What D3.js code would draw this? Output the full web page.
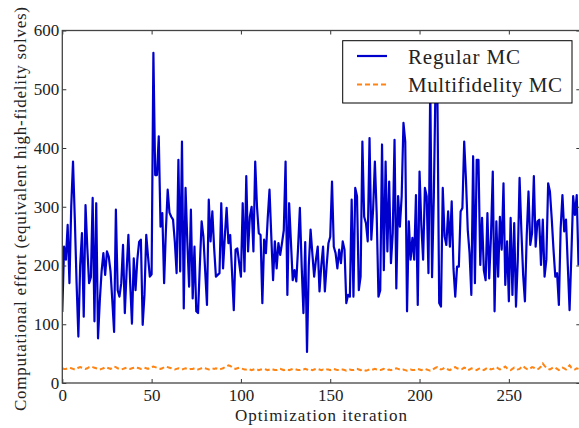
<!DOCTYPE html>
<html>
<head>
<meta charset="utf-8">
<style>
body { margin: 0; background: #fff; }
text { font-family: "Liberation Serif", "DejaVu Serif", "Times New Roman", serif; fill: #222; }
</style>
</head>
<body>
<svg width="579" height="428"></svg>
<script src="https://cdnjs.cloudflare.com/ajax/libs/d3/7.8.5/d3.min.js"></script>
<script>

// Regular MC effort per iteration (iteration 0..289)
var regularMC = [
  121,232,210,269,170,300,377,280,170,79, 200,255,113,303,230,170,180,315,105,306,
  76,140,190,221,184,224,215,190,140,87, 295,158,147,170,235,119,190,252,170,101,
  212,158,210,240,244,99,150,252,215,181, 185,562,354,354,420,266,289,170,260,329,
  290,283,278,240,187,380,190,411,127,332, 240,164,295,144,232,122,119,200,275,249,
  190,133,312,241,292,230,181,184,187,306, 195,250,298,238,252,190,124,227,229,205,
  181,306,190,352,224,283,300,224,377,300, 255,252,136,244,221,280,329,250,175,241,
  195,238,218,238,260,377,150,306,240,175, 192,173,230,298,200,119,240,53,200,261,
  220,181,210,232,156,200,232,156,200,238, 249,343,232,221,195,227,204,241,227,136,
  150,147,312,147,332,318,158,181,411,283, 272,241,417,244,295,377,289,147,158,406,
  192,377,224,343,204,255,414,161,318,266, 318,443,411,122,275,210,247,210,320,133,
  360,269,210,332,318,187,510,180,318,520, 490,136,130,332,250,235,292,232,309,195,
  147,198,198,292,298,411,346,260,221,150, 386,170,380,380,201,281,192,175,289,178,
  250,360,122,275,181,283,227,340,167,241, 139,281,150,272,130,210,349,260,184,139,
  250,326,235,255,352,232,275,278,201,278, 181,210,340,326,280,227,181,187,133,263,
  320,258,278,200,124,218,318,286,320,200
];

// Multifidelity MC effort per iteration
var multiMC = [
  25,24,24,25,26,25,24,23,24,26, 27,26,25,24,25,27,28,27,26,25, 24,23,24,25,27,26,25,24,26,28, 27,25,24,23,24,25,26,25,24,25, 26,27,26,25,24,25,26,25,24,26,
  27,28,27,26,25,24,25,27,28,27, 26,25,24,23,24,25,24,23,24,25, 24,23,24,24,25,24,23,24,25,26, 25,24,23,24,25,24,25,24,23,24, 25,27,28,30,29,27,25,24,25,26,
  25,24,23,23,24,23,22,23,24,23, 22,23,23,24,23,22,23,24,23,22, 22,23,24,23,22,23,23,22,23,24, 24,23,22,22,23,23,24,23,22,23, 22,23,24,24,23,22,23,22,23,23,
  22,23,24,23,22,22,23,23,22,21, 22,23,22,22,23,24,23,22,23,22, 21,22,23,22,23,24,23,22,22,23, 24,23,22,23,22,23,24,25,24,23, 22,23,22,21,22,23,22,22,23,24,
  23,22,23,24,23,22,21,22,24,26, 27,25,23,24,26,25,23,22,24,26, 27,25,24,23,24,26,25,22,23,25, 24,23,22,24,25,23,22,24,26,25, 23,24,25,27,25,23,24,26,28,25,
  23,22,24,26,25,23,24,27,29,26, 24,23,25,27,26,24,23,25,28,33, 29,26,24,23,25,27,26,24,22,24, 26,25,23,27,30,26,24,23,25,24
];

var xTicks = [0, 50, 100, 150, 200, 250];
var yTicks = [0, 100, 200, 300, 400, 500, 600];
var seriesNames = ["Regular MC", "Multifidelity MC"];

var serif = "'Liberation Serif', 'DejaVu Serif', serif";

var svg = d3.select("svg");

var x = d3.scaleLinear().domain([0, 290]).range([62.3, 580.3]);
var y = d3.scaleLinear().domain([0, 600]).range([383, 30.5]);

svg.append("clipPath").attr("id", "plotclip")
  .append("rect")
    .attr("x", x(0)).attr("y", y(600))
    .attr("width", x(290) - x(0)).attr("height", y(0) - y(600));

var line = d3.line()
    .x(function(d, i) { return x(i); })
    .y(function(d) { return y(d); });

var plot = svg.append("g").attr("clip-path", "url(#plotclip)");

plot.append("path")
    .datum(regularMC)
    .attr("fill", "none")
    .attr("stroke", "#0000cc")
    .attr("stroke-width", 2.2)
    .attr("stroke-linejoin", "round")
    .attr("d", line);

plot.append("path")
    .datum(multiMC)
    .attr("fill", "none")
    .attr("stroke", "#ff8413")
    .attr("stroke-width", 2)
    .attr("stroke-dasharray", "5,3")
    .attr("d", line);

// axes, ticks pointing inward on all four sides
var tickLen = 4;
svg.append("g")
    .attr("transform", "translate(0," + y(0) + ")")
    .call(d3.axisBottom(x).tickValues(xTicks).tickSizeInner(-tickLen).tickSizeOuter(0).tickPadding(6))
    .call(function(g) { g.select(".domain").remove(); });
svg.append("g")
    .attr("transform", "translate(0," + y(600) + ")")
    .call(d3.axisTop(x).tickValues(xTicks).tickSizeInner(-tickLen).tickSizeOuter(0).tickFormat(""))
    .call(function(g) { g.select(".domain").remove(); });
svg.append("g")
    .attr("transform", "translate(" + x(0) + ",0)")
    .call(d3.axisLeft(y).tickValues(yTicks).tickSizeInner(-tickLen).tickSizeOuter(0).tickPadding(3))
    .call(function(g) { g.select(".domain").remove(); });
svg.append("g")
    .attr("transform", "translate(" + x(290) + ",0)")
    .call(d3.axisRight(y).tickValues(yTicks).tickSizeInner(-tickLen).tickSizeOuter(0).tickFormat(""))
    .call(function(g) { g.select(".domain").remove(); });

svg.selectAll("g").attr("font-family", serif);
svg.selectAll(".tick line").attr("stroke", "#333").attr("stroke-width", 1);
svg.selectAll(".tick text")
    .attr("font-family", serif)
    .style("font-size", "17px")
    .attr("fill", "#222");

svg.append("rect")
    .attr("x", x(0)).attr("y", y(600))
    .attr("width", x(290) - x(0)).attr("height", y(0) - y(600))
    .attr("fill", "none")
    .attr("stroke", "#444")
    .attr("stroke-width", 1.3);

// axis labels
svg.append("text")
    .attr("x", 321)
    .attr("y", 420.5)
    .attr("text-anchor", "middle")
    .attr("textLength", 172)
    .attr("font-family", serif)
    .style("font-size", "17px")
    .text("Optimization iteration");

svg.append("text")
    .attr("transform", "translate(26,209) rotate(-90)")
    .attr("text-anchor", "middle")
    .attr("textLength", 404)
    .attr("font-family", serif)
    .style("font-size", "17px")
    .text("Computational effort (equivalent high-fidelity solves)");

// legend
var legend = svg.append("g");
legend.append("rect")
    .attr("x", 342.7).attr("y", 40.7)
    .attr("width", 229.3).attr("height", 62.3)
    .attr("fill", "#fff")
    .attr("stroke", "#000")
    .attr("stroke-width", 1);

var legendStyle = [
  { stroke: "#0000cc", dash: null, w: 2.2, rowY: 56, tl: 112 },
  { stroke: "#ff8413", dash: "5,3", w: 2, rowY: 84.5, tl: 154 }
];

seriesNames.forEach(function(name, i) {
  var s = legendStyle[i];
  legend.append("line")
      .attr("x1", 357).attr("x2", 387)
      .attr("y1", s.rowY).attr("y2", s.rowY)
      .attr("stroke", s.stroke)
      .attr("stroke-width", s.w)
      .attr("stroke-dasharray", s.dash);
  legend.append("text")
      .attr("x", 408)
      .attr("y", s.rowY + 7.5)
      .attr("textLength", s.tl)
      .attr("font-family", serif)
      .style("font-size", "21px")
      .text(name);
});

</script>
</body>
</html>
